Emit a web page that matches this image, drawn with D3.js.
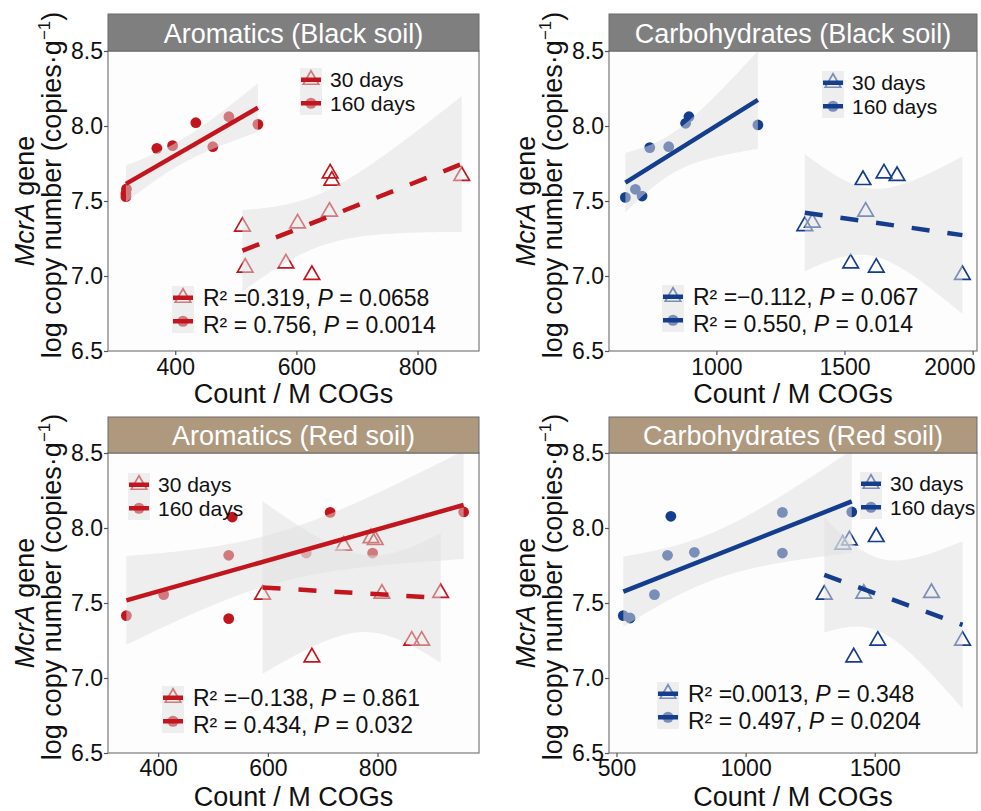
<!DOCTYPE html>
<html>
<head>
<meta charset="utf-8">
<script src="https://cdn.jsdelivr.net/npm/d3@7"></script>
<style>
  body { margin: 0; background: #ffffff; }
  svg text { font-family: "Liberation Sans", Arial, Helvetica, sans-serif; }
</style>
</head>
<body>
<svg id="chart" width="981" height="811"></svg>
<script>
// ---- Data: Count / M COGs (x) vs log mcrA copy number (y) ----
// Aromatics, black soil
const aroBlack30X  = [511, 515.5, 582.7, 602, 625.6, 654.7, 655.8, 658.6, 873];
const aroBlack30Y  = [7.329, 7.056, 7.084, 7.351, 7.007, 7.429, 7.684, 7.636, 7.667];
const aroBlack160X = [318.6, 318.6, 319.5, 369.7, 395.6, 434, 462, 488.6, 536.5];
const aroBlack160Y = [7.529, 7.55, 7.58, 7.851, 7.869, 8.022, 7.862, 8.062, 8.011];
// Carbohydrates, black soil
const carbBlack30X  = [1345, 1374.5, 1524, 1572, 1582.5, 1624, 1654, 1705, 1960];
const carbBlack30Y  = [7.333, 7.356, 7.084, 7.64, 7.429, 7.056, 7.684, 7.667, 7.007];
const carbBlack160X = [645, 684, 710, 740, 814, 880, 893, 1162];
const carbBlack160Y = [7.524, 7.578, 7.533, 7.856, 7.862, 8.018, 8.062, 8.007];
// Aromatics, red soil
const aroRed30X  = [590.3, 680.3, 738.3, 788, 795.8, 808, 862.4, 880.5, 915];
const aroRed30Y  = [7.556, 7.138, 7.882, 7.933, 7.92, 7.562, 7.249, 7.249, 7.567];
const aroRed160X = [342, 410, 528.6, 535, 528.6, 670, 713.6, 791, 957];
const aroRed160Y = [7.416, 7.556, 7.818, 8.073, 7.396, 7.833, 8.104, 7.833, 8.107];
// Carbohydrates, red soil
const carbRed30X  = [1304.7, 1376, 1402, 1418.7, 1457.6, 1505.8, 1512, 1719.8, 1840];
const carbRed30Y  = [7.556, 7.889, 7.918, 7.138, 7.562, 7.94, 7.249, 7.567, 7.249];
const carbRed160X = [526.5, 552.5, 647, 697.6, 710.5, 801.6, 1142.4, 1142.4, 1411];
const carbRed160Y = [7.416, 7.4, 7.556, 7.818, 8.078, 7.838, 8.104, 7.833, 8.107];

// Panel titles, axis ticks and fit statistics
const panelTitles = ["Aromatics (Black soil)", "Carbohydrates (Black soil)",
                     "Aromatics (Red soil)", "Carbohydrates (Red soil)"];
const xTicksAroBlack  = [400, 600, 800];
const xTicksCarbBlack = [1000, 1500, 2000];
const xTicksAroRed    = [400, 600, 800];
const xTicksCarbRed   = [500, 1000, 1500];
const yTicks = [6.5, 7.0, 7.5, 8.0, 8.5];
const dayLabels = ["30 days", "160 days"];
const r2Labels = [["=0.319", "= 0.756"], ["=\u22120.112", "= 0.550"],
                  ["=\u22120.138", "= 0.434"], ["=0.0013", "= 0.497"]];
const pLabels  = [["0.0658", "0.0014"], ["0.067", "0.014"],
                  ["0.861", "0.032"], ["0.348", "0.0204"]];

// ---- Layout ----
const W = 981;
const RED = "#c3151d", BLUE = "#153d8e";
const STRIP_DARK = "#7f7f7f", STRIP_BROWN = "#ae997e";
const cols = [{ L: 108, R: 479 }, { L: 609, R: 977 }];
const rows = [{ stripTop: 14, top: 51, bottom: 351, titleGap: 52, tickPad: 4 },
              { stripTop: 417, top: 453, bottom: 753, titleGap: 53, tickPad: 3 }];

const panels = [
  { col: 0, row: 0, title: panelTitles[0], strip: STRIP_DARK, color: RED,
    x30: aroBlack30X, y30: aroBlack30Y, x160: aroBlack160X, y160: aroBlack160Y,
    xDomain: [289, 901.5], xTicks: xTicksAroBlack,
    leg1: [192, 17], leg2: [64, 235], r2: r2Labels[0], p: pLabels[0] },
  { col: 1, row: 0, title: panelTitles[1], strip: STRIP_DARK, color: BLUE,
    x30: carbBlack30X, y30: carbBlack30Y, x160: carbBlack160X, y160: carbBlack160Y,
    xDomain: [581, 2017], xTicks: xTicksCarbBlack,
    leg1: [213, 20], leg2: [53, 234], r2: r2Labels[1], p: pLabels[1] },
  { col: 0, row: 1, title: panelTitles[2], strip: STRIP_BROWN, color: RED,
    x30: aroRed30X, y30: aroRed30Y, x160: aroRed160X, y160: aroRed160Y,
    xDomain: [308.5, 985], xTicks: xTicksAroRed,
    leg1: [20, 20], leg2: [54, 233], r2: r2Labels[2], p: pLabels[2] },
  { col: 1, row: 1, title: panelTitles[3], strip: STRIP_BROWN, color: BLUE,
    x30: carbRed30X, y30: carbRed30Y, x160: carbRed160X, y160: carbRed160Y,
    xDomain: [471, 1896], xTicks: xTicksCarbRed,
    leg1: [251, 19], leg2: [48, 229], r2: r2Labels[3], p: pLabels[3] }
];

// Student t 97.5% quantiles for the confidence ribbon
const T975 = { 5: 2.5706, 6: 2.4469, 7: 2.3646, 8: 2.3060, 9: 2.2622, 10: 2.2281 };

// Ordinary least squares fit with 95% confidence band
function linearFit(xs, ys) {
  const n = xs.length;
  const mx = d3.mean(xs), my = d3.mean(ys);
  const sxx = d3.sum(xs, x => (x - mx) ** 2);
  const sxy = d3.sum(xs, (x, i) => (x - mx) * (ys[i] - my));
  const b = sxy / sxx, a = my - b * mx;
  const sse = d3.sum(xs, (x, i) => (ys[i] - (a + b * x)) ** 2);
  const s = Math.sqrt(sse / (n - 2));
  const t = T975[n - 2];
  const [x0, x1] = d3.extent(xs);
  const grid = d3.range(81).map(i => x0 + (x1 - x0) * i / 80);
  const band = grid.map(x => {
    const fitY = a + b * x;
    const se = s * Math.sqrt(1 / n + (x - mx) ** 2 / sxx);
    return { x, lo: fitY - t * se, hi: fitY + t * se };
  });
  return { a, b, x0, x1, band };
}

const svg = d3.select("#chart");
const BAND_FILL = "#e0e0e0", BAND_OPACITY = 0.5;
const triangle = d3.symbol().type(d3.symbolTriangle).size(105);

panels.forEach((p, idx) => {
  const c = cols[p.col], r = rows[p.row];
  const x = d3.scaleLinear().domain(p.xDomain).range([c.L, c.R]);
  const y = d3.scaleLinear().domain([6.5, 8.5]).range([r.bottom, r.top]);
  const g = svg.append("g");

  const clipId = "clip" + idx;
  g.append("clipPath").attr("id", clipId).append("rect")
    .attr("x", c.L).attr("y", r.top).attr("width", c.R - c.L).attr("height", r.bottom - r.top);

  // panel background
  g.append("rect").attr("x", c.L).attr("y", r.top)
    .attr("width", c.R - c.L).attr("height", r.bottom - r.top).attr("fill", "#fdfdfd");

  const plot = g.append("g").attr("clip-path", `url(#${clipId})`);

  // points: filled circles (160 days), open triangles (30 days)
  plot.selectAll("circle.d160").data(p.x160.map((v, i) => [v, p.y160[i]]))
    .join("circle").attr("class", "d160")
    .attr("cx", d => x(d[0])).attr("cy", d => y(d[1])).attr("r", 5.4)
    .attr("fill", p.color);
  plot.selectAll("path.d30").data(p.x30.map((v, i) => [v, p.y30[i]]))
    .join("path").attr("class", "d30")
    .attr("d", triangle)
    .attr("transform", d => `translate(${x(d[0])},${y(d[1])})`)
    .attr("fill", "none").attr("stroke", p.color).attr("stroke-width", 1.7);

  // fits
  const fits = [
    { fit: linearFit(p.x30, p.y30), dash: "18,18" },
    { fit: linearFit(p.x160, p.y160), dash: null }
  ];
  const area = d3.area().x(d => x(d.x)).y0(d => y(d.lo)).y1(d => y(d.hi));
  fits.forEach(f => {
    plot.append("path").datum(f.fit.band).attr("d", area)
      .attr("fill", BAND_FILL).attr("fill-opacity", BAND_OPACITY);
  });
  fits.forEach(f => {
    plot.append("line")
      .attr("x1", x(f.fit.x0)).attr("y1", y(f.fit.a + f.fit.b * f.fit.x0))
      .attr("x2", x(f.fit.x1)).attr("y2", y(f.fit.a + f.fit.b * f.fit.x1))
      .attr("stroke", p.color).attr("stroke-width", 4.5)
      .attr("stroke-dasharray", f.dash);
  });

  // panel border
  g.append("rect").attr("x", c.L).attr("y", r.top)
    .attr("width", c.R - c.L).attr("height", r.bottom - r.top)
    .attr("fill", "none").attr("stroke", "#7a7a7a").attr("stroke-width", 1.2);

  // strip
  g.append("rect").attr("x", c.L).attr("y", r.stripTop)
    .attr("width", c.R - c.L).attr("height", r.top - r.stripTop)
    .attr("fill", p.strip).attr("stroke", "#6a6a6a").attr("stroke-width", 1);
  g.append("text").attr("x", (c.L + c.R) / 2).attr("y", (r.stripTop + r.top) / 2 + 1)
    .attr("text-anchor", "middle").attr("dominant-baseline", "central")
    .attr("font-size", 27).attr("fill", "#ffffff").text(p.title);

  // axes
  const xAxis = g.append("g").attr("transform", `translate(0,${r.bottom})`)
    .call(d3.axisBottom(x).tickValues(p.xTicks).tickSize(4).tickPadding(r.tickPad).tickFormat(d3.format("d")));
  const yAxis = g.append("g").attr("transform", `translate(${c.L},0)`)
    .call(d3.axisLeft(y).tickValues(yTicks).tickSize(4).tickPadding(1).tickFormat(d3.format(".1f")));
  [xAxis, yAxis].forEach(ax => {
    ax.select(".domain").remove();
    ax.selectAll(".tick line").attr("stroke", "#555555").attr("stroke-width", 1.2);
    ax.selectAll(".tick text").attr("font-size", 23).attr("fill", "#111111")
      .attr("font-family", "'Liberation Sans', Arial, sans-serif");
  });
  // keep a tick label that would run past the right edge inside the page
  xAxis.selectAll(".tick text").each(function (d) {
    const half = this.getComputedTextLength() / 2;
    if (x(d) + half > W - 4) {
      d3.select(this).attr("text-anchor", "end").attr("x", (W - 6) - x(d));
    }
  });

  // axis titles
  g.append("text").attr("x", (c.L + c.R) / 2).attr("y", r.bottom + r.titleGap)
    .attr("text-anchor", "middle").attr("font-size", 27).attr("fill", "#111111")
    .text("Count / M COGs");
  const midY = (r.top + r.bottom) / 2;
  const t1 = g.append("text").attr("transform", `translate(${c.L - 74},${midY}) rotate(-90)`)
    .attr("text-anchor", "middle").attr("font-size", 27).attr("fill", "#111111");
  t1.append("tspan").attr("font-style", "italic").text("McrA");
  t1.append("tspan").text(" gene");
  const t2 = g.append("text").attr("transform", `translate(${c.L - 47},${midY - 16}) rotate(-90)`)
    .attr("text-anchor", "middle").attr("font-size", 27).attr("fill", "#111111");
  t2.append("tspan").text("log copy number (copies\u00b7g");
  t2.append("tspan").attr("font-size", 17).attr("dy", -11).text("\u22121");
  t2.append("tspan").attr("dy", 11).text(")");

  // legend key: point, ribbon, then line on top
  function drawKey(kx, ky, w, h, shape) {
    const cx = kx + w / 2, cy = ky + h / 2;
    if (shape === "triangle") {
      g.append("path").attr("d", triangle).attr("transform", `translate(${cx},${cy})`)
        .attr("fill", "none").attr("stroke", p.color).attr("stroke-width", 1.7);
    } else {
      g.append("circle").attr("cx", cx).attr("cy", cy).attr("r", 5.6).attr("fill", p.color);
    }
    g.append("rect").attr("x", kx).attr("y", ky).attr("width", w).attr("height", h)
      .attr("fill", BAND_FILL).attr("fill-opacity", BAND_OPACITY);
    g.append("line").attr("x1", kx + 1).attr("x2", kx + w - 1).attr("y1", cy).attr("y2", cy)
      .attr("stroke", p.color).attr("stroke-width", 4.5);
  }

  // legend 1: sampling days
  const k1x = c.L + p.leg1[0], k1y = r.top + p.leg1[1];
  dayLabels.forEach((lab, i) => {
    drawKey(k1x, k1y + i * 23.5, 22, 23.5, i === 0 ? "triangle" : "circle");
    g.append("text").attr("x", k1x + 30).attr("y", k1y + 11.75 + i * 23.5)
      .attr("dominant-baseline", "central").attr("font-size", 21).attr("fill", "#111111").text(lab);
  });

  // legend 2: fit statistics
  const k2x = c.L + p.leg2[0], k2y = r.top + p.leg2[1];
  [0, 1].forEach(i => {
    drawKey(k2x, k2y + i * 23.5, 22, 23.5, i === 0 ? "triangle" : "circle");
    const tx = g.append("text").attr("x", k2x + 31).attr("y", k2y + 11.5 + i * 27)
      .attr("dominant-baseline", "central").attr("font-size", 23).attr("fill", "#111111");
    tx.append("tspan").text(`R\u00b2 ${p.r2[i]}, `);
    tx.append("tspan").attr("font-style", "italic").text("P");
    tx.append("tspan").text(` = ${p.p[i]}`);
  });
});
</script>
</body>
</html>
